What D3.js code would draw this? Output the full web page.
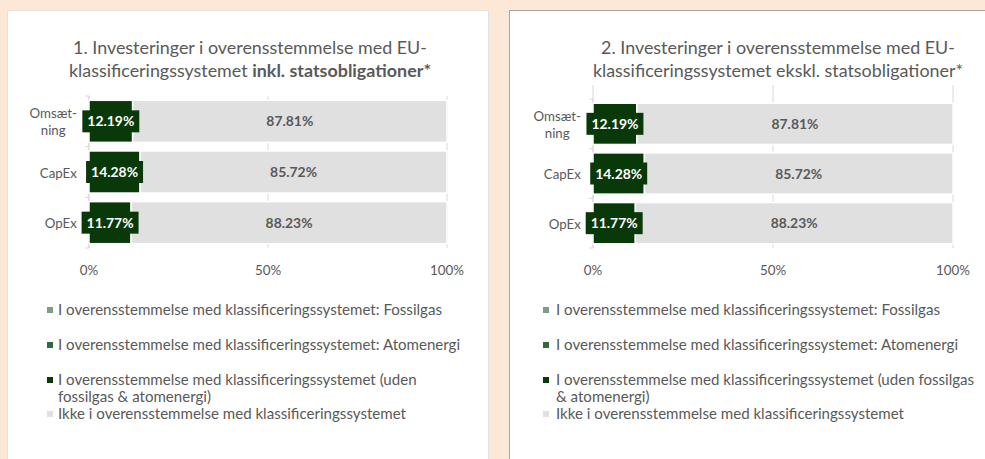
<!DOCTYPE html>
<html><head><meta charset="utf-8">
<script src="https://cdn.jsdelivr.net/npm/d3@7"></script>
<style>
html,body{margin:0;padding:0;background:#fde8d8;}
svg{display:block;font-family:Lato,"Open Sans",sans-serif;}
</style></head>
<body>
<svg id="c" width="985" height="459"></svg>
<script>
// ---- data ----
const categories = ["Omsætning", "CapEx", "OpEx"];
const categoryLabels = [["Omsæt-", "ning"], ["CapEx"], ["OpEx"]];
const seriesNames = [
  "I overensstemmelse med klassificeringssystemet: Fossilgas",
  "I overensstemmelse med klassificeringssystemet: Atomenergi",
  "I overensstemmelse med klassificeringssystemet (uden fossilgas & atomenergi)",
  "Ikke i overensstemmelse med klassificeringssystemet"
];
// chart 1 (inkl. statsobligationer)
const fossilgas1 = [0, 0, 0];
const atomenergi1 = [0, 0, 0];
const aligned1 = [12.19, 14.28, 11.77];
const notAligned1 = [87.81, 85.72, 88.23];
// chart 2 (ekskl. statsobligationer)
const fossilgas2 = [0, 0, 0];
const atomenergi2 = [0, 0, 0];
const aligned2 = [12.19, 14.28, 11.77];
const notAligned2 = [87.81, 85.72, 88.23];
const xTicks = [0, 50, 100];
const xTickLabels = ["0%", "50%", "100%"];

// ---- styles ----
const colors = ["#7c9f84", "#2f6b3f", "#093909", "#e0e0e0"];
const textGrey = "#595959";

const svg = d3.select("#c");

// font-size fitting: size so that `str` measures `target` px wide
function fitSize(str, target, weight) {
  const t = svg.append("text").style("font-size", "100px").attr("font-weight", weight || "normal").text(str);
  const w = t.node().getComputedTextLength();
  t.remove();
  return 100 * target / w;
}
const titleSize = fitSize("1. Investeringer i overensstemmelse med EU-", 354);
const legendSize = fitSize("I overensstemmelse med klassificeringssystemet: Fossilgas", 384);
const catSize = fitSize("CapEx", 37);
const valSize = fitSize("12.19%", 47, "bold");
const axisSize = fitSize("100%", 34);

// panels
svg.append("rect").attr("x", 7.5).attr("y", 10.5).attr("width", 481).attr("height", 470)
  .attr("fill", "#fff").attr("stroke", "#e2e2e2");
svg.append("rect").attr("x", 509.5).attr("y", 10.5).attr("width", 500).attr("height", 470)
  .attr("fill", "#fff").attr("stroke", "#a6a6a6");

function drawChart(cfg) {
  const g = svg.append("g");
  const rows = categories.map((c, i) => ({
    cat: c, f: cfg.data[0][i], a: cfg.data[1][i], u: cfg.data[2][i], n: cfg.data[3][i]
  }));
  const keys = ["f", "a", "u", "n"];
  const stack = d3.stack().keys(keys)(rows);

  const x = d3.scaleLinear().domain([0, 100]).range([cfg.x0, cfg.x1]);
  const y = d3.scaleBand().domain(categories).range([cfg.yTop, cfg.yBot])
    .paddingInner(0.17).paddingOuter(0.085);

  // title
  const t = g.append("text").attr("text-anchor", "middle").attr("fill", textGrey)
    .style("font-size", titleSize + "px");
  t.append("tspan").attr("x", cfg.titleX).attr("y", 54).text(cfg.title1);
  const l2 = t.append("tspan").attr("x", cfg.titleX).attr("y", 77);
  l2.append("tspan").text(cfg.title2a);
  l2.append("tspan").attr("font-weight", cfg.title2bBold ? "bold" : "normal").text(cfg.title2b);

  // gridlines
  g.selectAll(".grid").data(xTicks).join("line")
    .attr("x1", d => x(d)).attr("x2", d => x(d))
    .attr("y1", cfg.gridTop).attr("y2", cfg.yBot)
    .attr("stroke", "#d9d9d9").attr("stroke-width", 1);

  // category axis line + ticks
  const step = y.step();
  const bounds = categories.map(c => y(c) - step * y.paddingInner() / 2);
  bounds.push(y(categories[categories.length - 1]) + y.bandwidth() + step * y.paddingInner() / 2);
  g.append("line").attr("x1", x(0)).attr("x2", x(0)).attr("y1", bounds[0]).attr("y2", bounds[bounds.length - 1])
    .attr("stroke", "#d9d9d9");
  g.selectAll(".ytick").data(bounds).join("line")
    .attr("x1", x(0) - 4).attr("x2", x(0)).attr("y1", d => d).attr("y2", d => d)
    .attr("stroke", "#d9d9d9");

  // bars
  stack.forEach((s, si) => {
    g.selectAll(".bar" + si).data(s).join("rect")
      .attr("x", d => x(d[0])).attr("width", d => Math.max(0, x(d[1]) - x(d[0])))
      .attr("y", d => y(d.data.cat)).attr("height", y.bandwidth())
      .attr("fill", colors[si])
      .attr("stroke", "#fff").attr("stroke-width", d => (d[1] - d[0]) > 0 ? 1.5 : 0);
  });

  // category labels
  categories.forEach((c, i) => {
    const lines = categoryLabels[i];
    const cy = y(c) + y.bandwidth() / 2;
    const txt = g.append("text").attr("text-anchor", "middle").attr("fill", textGrey)
      .style("font-size", catSize + "px");
    const lh = 17;
    lines.forEach((ln, j) => {
      txt.append("tspan").attr("x", 0).attr("y", cy + (j - (lines.length - 1) / 2) * lh + 5.5).text(ln);
    });
    const w = txt.node().getBBox().width;
    txt.selectAll("tspan").attr("x", x(0) - 12 - w / 2);
  });

  // data labels for aligned (dark) segment
  const darkS = stack[2];
  darkS.forEach(d => {
    const cx = (x(d[0]) + x(d[1])) / 2;
    const cy = y(d.data.cat) + y.bandwidth() / 2;
    const gl = g.append("g");
    const bg = gl.append("rect").attr("fill", colors[2]);
    const tx = gl.append("text").attr("x", cx).attr("y", cy + 5)
      .attr("text-anchor", "middle").attr("fill", "#fff").attr("font-weight", "bold")
      .style("font-size", valSize + "px").text(d3.format(".2f")(d[1] - d[0]) + "%");
    const bb = tx.node().getBBox();
    bg.attr("x", cx - bb.width / 2 - 5).attr("width", bb.width + 10)
      .attr("y", cy - 11).attr("height", 22);
  });
  // data labels for not-aligned (grey) segment
  stack[3].forEach(d => {
    const cx = (x(d[0]) + x(d[1])) / 2;
    const cy = y(d.data.cat) + y.bandwidth() / 2;
    g.append("text").attr("x", cx).attr("y", cy + 5)
      .attr("text-anchor", "middle").attr("fill", textGrey).attr("font-weight", "bold")
      .style("font-size", valSize + "px").text(d3.format(".2f")(d[1] - d[0]) + "%");
  });

  // x axis labels
  g.selectAll(".xl").data(xTicks).join("text")
    .attr("x", d => x(d)).attr("y", 275)
    .attr("text-anchor", "middle").attr("fill", textGrey).style("font-size", axisSize + "px")
    .text((d, i) => xTickLabels[i]);

  // legend
  const legRows = [
    { s: 0, lines: [seriesNames[0]], y: 310 },
    { s: 1, lines: [seriesNames[1]], y: 345 },
    { s: 2, lines: cfg.wrap3, y: 380 },
    { s: 3, lines: [seriesNames[3]], y: 414 }
  ];
  legRows.forEach(r => {
    g.append("rect").attr("x", cfg.legSqX).attr("y", r.y - 3).attr("width", 6).attr("height", 6)
      .attr("fill", colors[r.s]);
    const tx = g.append("text").attr("fill", textGrey).style("font-size", legendSize + "px");
    r.lines.forEach((ln, j) => {
      tx.append("tspan").attr("x", cfg.legTextX).attr("y", r.y + 5 + j * 17).text(ln);
    });
  });
}

drawChart({
  data: [fossilgas1, atomenergi1, aligned1, notAligned1],
  x0: 89, x1: 447, yTop: 96, yBot: 248, gridTop: 96,
  titleX: 250,
  title1: "1. Investeringer i overensstemmelse med EU-",
  title2a: "klassificeringssystemet ", title2b: "inkl. statsobligationer*", title2bBold: true,
  legSqX: 47, legTextX: 58,
  wrap3: ["I overensstemmelse med klassificeringssystemet (uden", "fossilgas & atomenergi)"]
});
drawChart({
  data: [fossilgas2, atomenergi2, aligned2, notAligned2],
  x0: 593, x1: 953, yTop: 99, yBot: 248, gridTop: 85,
  titleX: 778,
  title1: "2. Investeringer i overensstemmelse med EU-",
  title2a: "klassificeringssystemet ", title2b: "ekskl. statsobligationer*", title2bBold: false,
  legSqX: 543, legTextX: 556,
  wrap3: ["I overensstemmelse med klassificeringssystemet (uden fossilgas", "& atomenergi)"]
});
</script>
</body></html>
